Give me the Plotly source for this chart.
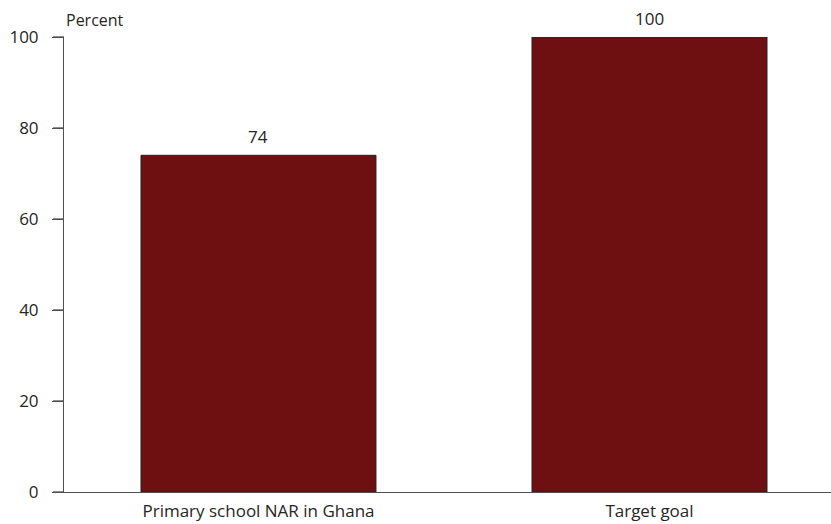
import plotly.graph_objects as go

categories = ["Primary school NAR in Ghana", "Target goal"]
values = [74, 100]
y_ticks = [0, 20, 40, 60, 80, 100]
Y_RANGE = [0, 100]

FONT = "Open Sans"
AXIS = "#505050"
BAR = "#6e0f11"
TEXT = "#262626"
TICK_LEN = 11

fig = go.Figure()
fig.add_trace(go.Bar(
    x=list(range(len(categories))),
    y=values,
    width=0.601,
    marker=dict(color=BAR, line=dict(color="#222222", width=1)),
    hoverinfo="x+y",
))

# value labels above each bar
annotations = [
    dict(x=i, y=v, xref="x", yref="y", text=str(v), showarrow=False,
         xanchor="center", yanchor="bottom", yshift=5,
         font=dict(family=FONT, size=17, color=TEXT))
    for i, v in enumerate(values)
]
annotations.append(dict(
    text="Percent", xref="paper", yref="paper",
    x=0, y=1, xanchor="left", yanchor="bottom", yshift=4,
    showarrow=False, font=dict(family=FONT, size=16, color=TEXT),
))

# outside tick marks on the y axis (paper coords so they are not clipped)
span = Y_RANGE[1] - Y_RANGE[0]
shapes = [
    dict(type="line", xref="paper", xsizemode="pixel", xanchor=0,
         x0=-TICK_LEN, x1=0, yref="paper",
         y0=(v - Y_RANGE[0]) / span, y1=(v - Y_RANGE[0]) / span,
         line=dict(color=AXIS, width=1.3), layer="above")
    for v in y_ticks
]

fig.update_layout(
    width=831, height=524,
    margin=dict(l=64, r=0, t=37, b=32),
    paper_bgcolor="white", plot_bgcolor="white",
    showlegend=False,
    font=dict(family=FONT, size=16, color=TEXT),
    xaxis=dict(
        range=[-0.4974, 1.4642],
        tickvals=list(range(len(categories))),
        ticktext=categories,
        showgrid=False, zeroline=False, automargin=False,
        showline=True, linecolor=AXIS, linewidth=1,
        ticks="", tickfont=dict(size=17), ticklabelstandoff=4,
    ),
    yaxis=dict(
        range=Y_RANGE,
        tickvals=y_ticks,
        showgrid=False, zeroline=False, automargin=False,
        showline=True, linecolor=AXIS, linewidth=1,
        ticks="outside", ticklen=TICK_LEN, tickcolor=AXIS, tickwidth=1.3,
        tickfont=dict(size=17), ticklabelstandoff=10,
    ),
    shapes=shapes,
    annotations=annotations,
)

fig.write_html("out.html")
